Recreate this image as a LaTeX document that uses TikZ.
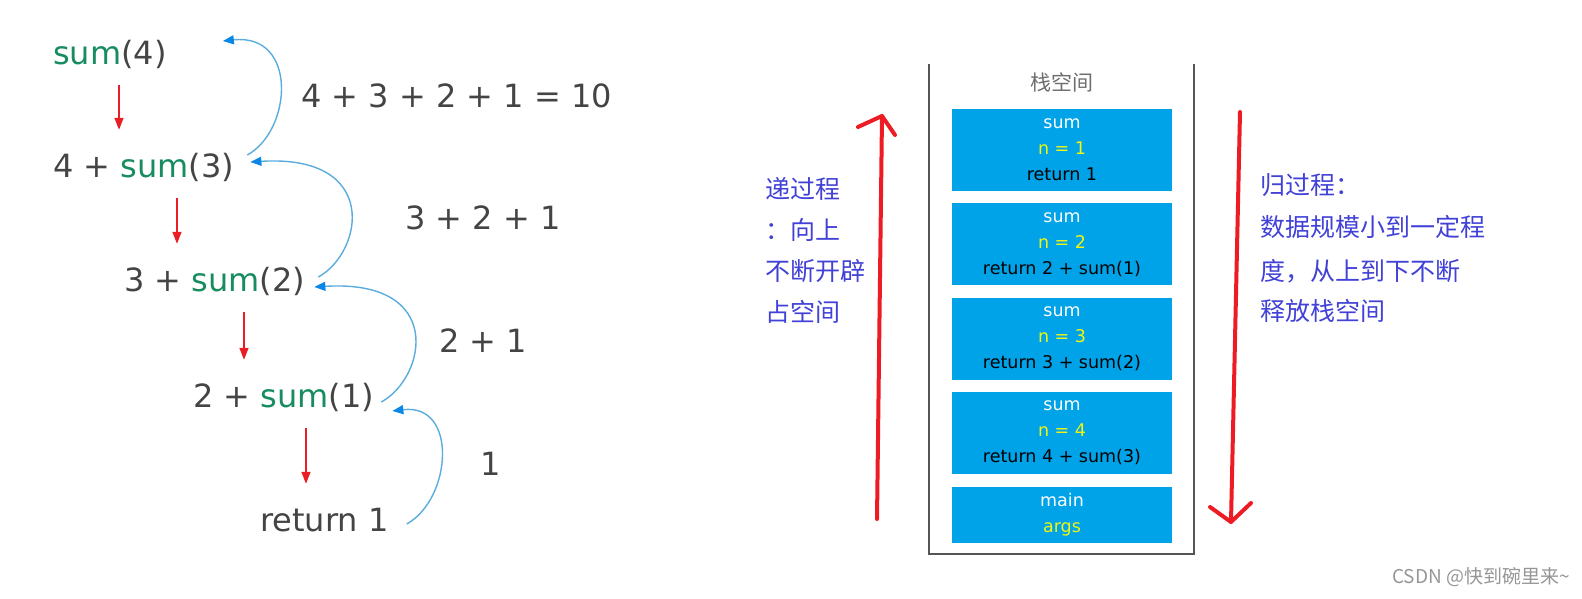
\documentclass[tikz,border=0pt]{standalone}
\usepackage{fontspec}
\setmainfont{DejaVu Sans}
\newfontfamily\cjk{Noto Sans CJK SC}
\usetikzlibrary{arrows.meta,positioning}
\definecolor{txtgray}{RGB}{68,68,68}
\definecolor{sumgreen}{RGB}{22,140,95}
\definecolor{backblue}{RGB}{90,172,222}
\definecolor{tipblue}{RGB}{10,135,230}
\definecolor{callred}{RGB}{232,30,36}
\definecolor{penred}{RGB}{237,28,36}
\definecolor{framegray}{RGB}{85,85,85}
\definecolor{titlegray}{RGB}{110,110,110}
\definecolor{blockblue}{RGB}{0,162,232}
\definecolor{nyellow}{RGB}{240,245,20}
\definecolor{noteblue}{RGB}{65,65,215}
\definecolor{wmgray}{RGB}{150,150,150}
\newcommand{\sumcall}[1]{\textcolor{sumgreen}{sum}(#1)}
\tikzset{
  expr/.style={anchor=base west, inner sep=0pt, text height=24pt, text depth=4pt,
    text=txtgray, font=\fontsize{32}{38}\selectfont},
  call/.style={color=callred, line width=1.3pt, -{Triangle[length=12pt,width=9pt]},
    shorten <=16pt, shorten >=24pt},
  back/.style={color=backblue, line width=1.4pt,
    -{Triangle[length=11pt,width=9pt,color=tipblue]}},
  block/.style={fill=blockblue, minimum width=220pt, minimum height=82pt, inner sep=0pt,
    align=center, font=\fontsize{17.5}{26}\selectfont},
  note/.style={anchor=base west, inner sep=0pt, text=noteblue, font=\cjk\fontsize{25}{30}\selectfont},
  pen/.style={draw=penred, line width=4pt, line cap=round, line join=round}
}
\begin{document}
\begin{tikzpicture}[x=1pt,y=1pt]
  \useasboundingbox (0,0) rectangle (1582,599);
  \draw
    (53,534) node[expr] (s4){\sumcall{4}}
    (53,421) node[expr] (s3){4 + \sumcall{3}}
    (124,307) node[expr] (s2){3 + \sumcall{2}}
    (193,191) node[expr] (s1){2 + \sumcall{1}}
    (260,67) node[expr] (r1){return 1};
  \draw
    (301,491) node[expr] (p10){4 + 3 + 2 + 1 = 10}
    (405,369) node[expr] (p6){3 + 2 + 1}
    (439,246) node[expr] (p3){2 + 1}
    (480,123) node[expr] (p1){1};
  \begin{scope}[call]
    \draw ([xshift=66pt]s4.south west) to ([xshift=66pt]s3.north west);
    \draw ([xshift=124pt]s3.south west) to ([xshift=53pt]s2.north west);
    \draw ([xshift=120pt]s2.south west) to ([xshift=51pt]s1.north west);
    \draw ([xshift=113pt]s1.south west) to ([xshift=46pt]r1.north west);
  \end{scope}
  \begin{scope}[back]
    \draw ([shift={(18,8)}]r1.base east) .. controls +(45,25) and +(66,8) .. ([shift={(18,-3)}]s1.base east);
    \draw ([shift={(7,6)}]s1.base east) .. controls +(45,25) and +(131,8) .. ([shift={(9,5)}]s2.base east);
    \draw ([shift={(13,15)}]s2.base east) .. controls +(45,25) and +(130,8) .. ([shift={(16,16)}]s3.base east);
    \draw ([shift={(13,23)}]s3.base east) .. controls +(45,25) and +(75,8) .. ([shift={(56,24)}]s4.base east);
  \end{scope}

  \draw[color=framegray, line width=2.2pt] (929,535) -- (929,45) -- (1194,45) -- (1194,535);
  \node[text=titlegray, font=\cjk\fontsize{21}{24}\selectfont] (stack) at (1062,517) {栈空间};
  \node[block] (f1) at (1062,449) {\textcolor{white}{sum}\\\textcolor{nyellow}{n = 1}\\return 1};
  \node[block, below=12pt of f1] (f2) {\textcolor{white}{sum}\\\textcolor{nyellow}{n = 2}\\return 2 + sum(1)};
  \node[block, below=12pt of f2] (f3) {\textcolor{white}{sum}\\\textcolor{nyellow}{n = 3}\\return 3 + sum(2)};
  \node[block, below=12pt of f3] (f4) {\textcolor{white}{sum}\\\textcolor{nyellow}{n = 4}\\return 4 + sum(3)};
  \node[block, minimum height=56pt, below=12pt of f4] (fm) {\textcolor{white}{main}\\\textcolor{nyellow}{args}};

  \coordinate (pushlo) at (877,80);
  \coordinate (pushhi) at (882,483);
  \draw[pen] (pushlo) -- (pushhi);
  \draw[pen] (pushhi) ++(-24,-11) -- (pushhi) -- ++(13,-19);
  \coordinate (pophi) at (1240,487);
  \coordinate (poplo) at (1231,77);
  \draw[pen] (pophi) -- (poplo);
  \draw[pen] (poplo) ++(-21,15) -- (poplo) -- ++(20,19);

  \node[note] (d1) at (765,400) {递过程};
  \node[note] (d2) at (765,359) {：向上};
  \node[note] (d3) at (765,318) {不断开辟};
  \node[note] (d4) at (765,277) {占空间};
  \node[note] (g1) at (1260,404) {归过程：};
  \node[note] (g2) at (1260,362) {数据规模小到一定程};
  \node[note] (g3) at (1260,318) {度，从上到下不断};
  \node[note] (g4) at (1260,278) {释放栈空间};

  \node[anchor=east, inner sep=0pt, text=wmgray, font=\cjk\fontsize{19}{22}\selectfont] (wm) at (1570,22) {CSDN @快到碗里来\textasciitilde};
\end{tikzpicture}
\end{document}
